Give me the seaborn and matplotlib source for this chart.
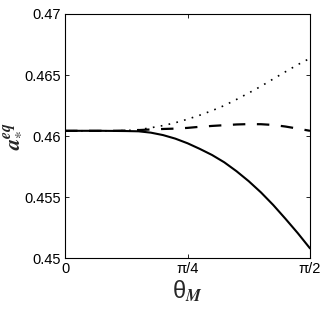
import numpy as np
import pandas as pd
import matplotlib
matplotlib.use("Agg")
import matplotlib.pyplot as plt
import seaborn as sns

# theta in units of pi/2
theta_frac = [0.0, 0.05, 0.1, 0.15, 0.2, 0.25, 0.3, 0.35, 0.4, 0.45, 0.5,
              0.55, 0.6, 0.65, 0.7, 0.75, 0.8, 0.85, 0.9, 0.95, 1.0]
solid = [0.46043, 0.46043, 0.46043, 0.46043, 0.46042, 0.46041, 0.46039, 0.46028,
         0.46008, 0.45979, 0.45941, 0.45895, 0.45845, 0.45785, 0.45712, 0.45630,
         0.45538, 0.45435, 0.45322, 0.45205, 0.45080]
dashed = [0.46043, 0.46043, 0.46043, 0.46043, 0.46043, 0.46045, 0.46049, 0.46054,
          0.46058, 0.46061, 0.46067, 0.46076, 0.46083, 0.46089, 0.46095, 0.46098,
          0.46097, 0.46091, 0.46078, 0.46061, 0.46043]
dotted = [0.46043, 0.46043, 0.46043, 0.46043, 0.46043, 0.46045, 0.46052, 0.46068,
          0.46086, 0.46109, 0.46138, 0.46171, 0.46208, 0.46250, 0.46300, 0.46353,
          0.46408, 0.46468, 0.46527, 0.46585, 0.46637]
xtick_labels = ["0", "π/4", "π/2"]
ytick_values = [0.45, 0.455, 0.46, 0.465, 0.47]
ytick_labels = ["0.45", "0.455", "0.46", "0.465", "0.47"]

sns.set_style("ticks")
plt.rcParams["font.family"] = ["Liberation Sans", "DejaVu Sans"]
plt.rcParams["mathtext.fontset"] = "stix"

theta = np.array(theta_frac) * np.pi / 2
df = pd.DataFrame({"theta": theta, "solid": solid, "dashed": dashed, "dotted": dotted})

fig = plt.figure(figsize=(3.27, 3.11), dpi=100)
ax = fig.add_axes([0.199, 0.170, 0.749, 0.785])

sns.lineplot(data=df, x="theta", y="dotted", ax=ax, color="black", lw=1.2,
             linestyle=(0, (1, 3.8)))
sns.lineplot(data=df, x="theta", y="dashed", ax=ax, color="black", lw=1.6,
             linestyle=(0, (5.6, 5.2)))
sns.lineplot(data=df, x="theta", y="solid", ax=ax, color="black", lw=1.5)

ax.set_xlim(0, np.pi / 2)
ax.set_ylim(0.45, 0.47)
ax.set_xticks([0, np.pi / 4, np.pi / 2])
ax.set_xticklabels(xtick_labels)
ax.set_yticks(ytick_values)
ax.set_yticklabels(ytick_labels)
ax.tick_params(direction="in", length=3, width=0.6, labelsize=10.5,
               top=True, right=True, colors="black", pad=3)
for s in ax.spines.values():
    s.set_linewidth(0.8)
    s.set_color("black")

ax.set_xlabel(r"θ$_{\mathbfit{M}}$", fontsize=17, labelpad=2)
ax.set_ylabel(r"$\mathbfit{a}_{*}^{\mathbfit{eq}}$", fontsize=16, labelpad=2)

fig.savefig("out.png", dpi=100)
